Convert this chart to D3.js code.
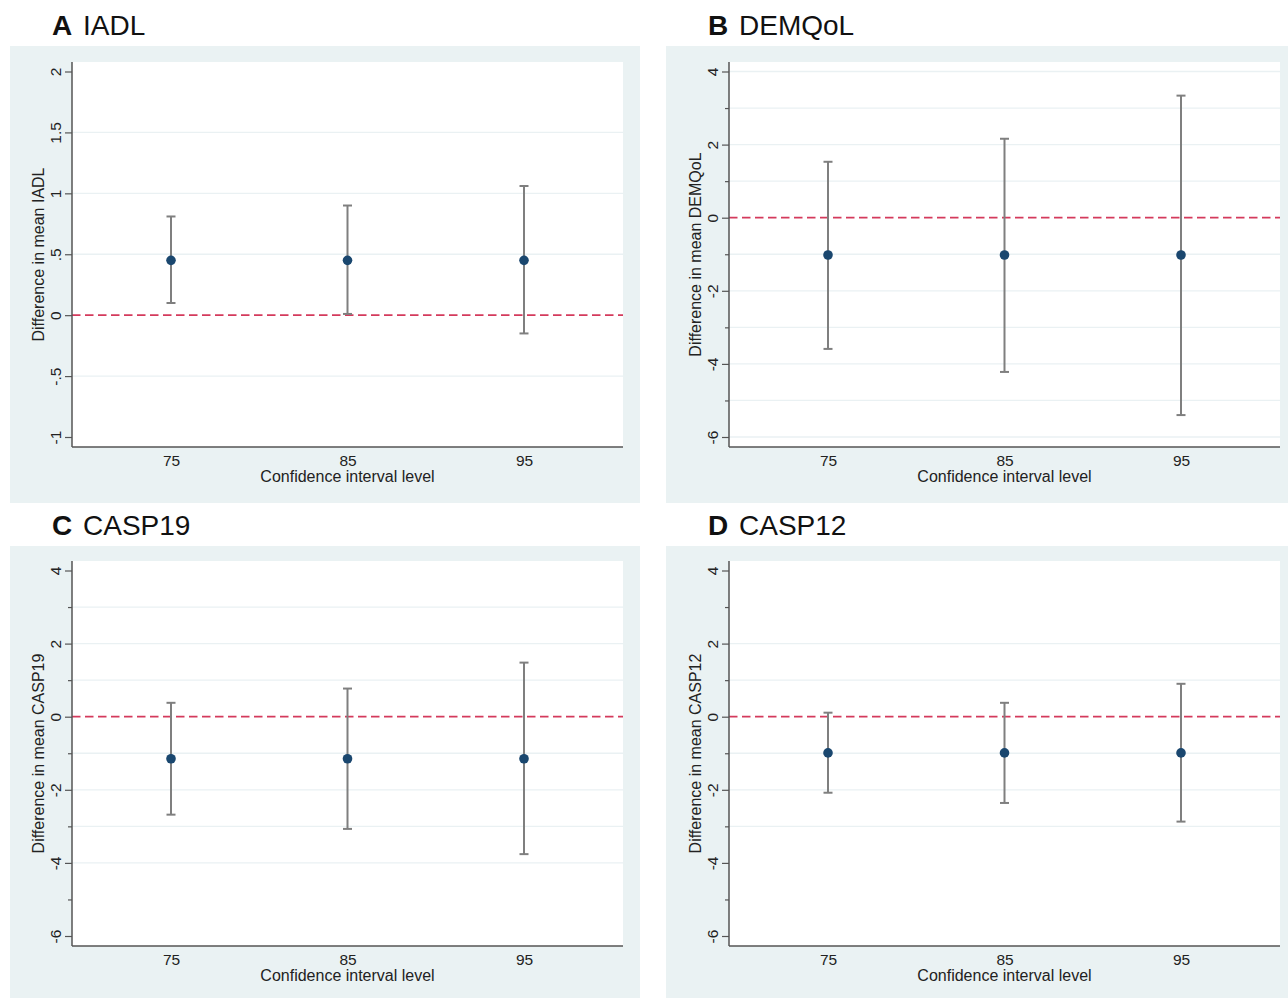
<!DOCTYPE html>
<html>
<head>
<meta charset="utf-8">
<script src="https://cdn.jsdelivr.net/npm/d3@7"></script>
<style>
  body { margin: 0; background: #fff; }
  text { font-family: "Liberation Sans", Arial, sans-serif; }
</style>
</head>
<body>
<div id="chart"></div>
<script>
// Confidence interval levels (x categories)
const levels = [75, 85, 95];

// A: IADL
const iadlMean  = [0.45, 0.45, 0.45];
const iadlLower = [0.10, 0.01, -0.15];
const iadlUpper = [0.81, 0.90, 1.06];

// B: DEMQoL
const demqolMean  = [-1.02, -1.02, -1.02];
const demqolLower = [-3.59, -4.22, -5.40];
const demqolUpper = [1.53, 2.16, 3.34];

// C: CASP19
const casp19Mean  = [-1.15, -1.15, -1.15];
const casp19Lower = [-2.68, -3.07, -3.76];
const casp19Upper = [0.38, 0.77, 1.48];

// D: CASP12
const casp12Mean  = [-0.99, -0.99, -0.99];
const casp12Lower = [-2.08, -2.36, -2.87];
const casp12Upper = [0.11, 0.38, 0.90];

// y tick values and labels
const iadlTicks = [-1, -0.5, 0, 0.5, 1, 1.5, 2];
const iadlTickLabels = ["-1", "-.5", "0", ".5", "1", "1.5", "2"];
const wideTicks = [-6, -4, -2, 0, 2, 4];
const wideTickLabels = ["-6", "-4", "-2", "0", "2", "4"];
const wideMinorTicks = [-5, -3, -1, 1, 3];

// grid line values per panel
const iadlGrid = [-0.5, 0.5, 1, 1.5];
const demqolGrid = [-6, -5, -4, -3, -2, -1, 1, 2, 3, 4];
const casp19Grid = [-4, -3, -2, -1, 1, 2, 3];
const casp12Grid = [-3, -2, -1, 1, 2];

const letters = ["A", "B", "C", "D"];
const names = ["IADL", "DEMQoL", "CASP19", "CASP12"];

const width = 1288, height = 998;

const svg = d3.select("#chart")
    .append("svg")
    .attr("width", width)
    .attr("height", height);

// panel frames: background box and plot region
const frames = [
  {bx: 10,  by: 46,  bw: 630, bh: 457, left: 72,  top: 62,  right: 623,  bottom: 447},
  {bx: 666, by: 46,  bw: 622, bh: 457, left: 729, top: 62,  right: 1280, bottom: 447},
  {bx: 10,  by: 546, bw: 630, bh: 452, left: 72,  top: 561, right: 623,  bottom: 946},
  {bx: 666, by: 546, bw: 622, bh: 452, left: 729, top: 561, right: 1280, bottom: 946}
];

const panels = [
  {mean: iadlMean, lower: iadlLower, upper: iadlUpper, ticks: iadlTicks, labels: iadlTickLabels, minor: [], grid: iadlGrid},
  {mean: demqolMean, lower: demqolLower, upper: demqolUpper, ticks: wideTicks, labels: wideTickLabels, minor: wideMinorTicks, grid: demqolGrid},
  {mean: casp19Mean, lower: casp19Lower, upper: casp19Upper, ticks: wideTicks, labels: wideTickLabels, minor: wideMinorTicks, grid: casp19Grid},
  {mean: casp12Mean, lower: casp12Lower, upper: casp12Upper, ticks: wideTicks, labels: wideTickLabels, minor: wideMinorTicks, grid: casp12Grid}
];

const font = "'Liberation Sans', Arial, sans-serif";

panels.forEach(function(p, i) {
  const f = frames[i];
  const g = svg.append("g");

  // backgrounds
  g.append("rect")
      .attr("x", f.bx).attr("y", f.by)
      .attr("width", f.bw).attr("height", f.bh)
      .attr("fill", "#eaf2f3");
  g.append("rect")
      .attr("x", f.left).attr("y", f.top)
      .attr("width", f.right - f.left).attr("height", f.bottom - f.top)
      .attr("fill", "#ffffff");

  // panel title
  const title = g.append("text")
      .attr("x", f.bx + 42)
      .attr("y", f.by - 11)
      .style("font-size", "28px")
      .attr("fill", "#111");
  title.append("tspan").attr("font-weight", "bold").text(letters[i]);
  title.append("tspan").attr("dx", 3).text(" " + names[i]);

  // scales
  const x = d3.scaleLinear()
      .domain([75, 95])
      .range([f.left + 99, f.right - 99]);
  const y = d3.scaleLinear()
      .domain(d3.extent(p.ticks))
      .range([f.bottom - 10, f.top + 9.5]);

  // grid lines
  g.selectAll("gridline")
      .data(p.grid)
      .join("line")
      .attr("x1", f.left).attr("x2", f.right)
      .attr("y1", d => y(d)).attr("y2", d => y(d))
      .attr("stroke", "#eaf1f3")
      .attr("stroke-width", 1.3);

  // reference line at zero
  g.append("line")
      .attr("x1", f.left).attr("x2", f.right)
      .attr("y1", y(0)).attr("y2", y(0))
      .attr("stroke", "#d43a5c")
      .attr("stroke-width", 1.8)
      .attr("stroke-dasharray", "8.5,4.5");

  // y axis (major)
  const yAxis = g.append("g")
      .attr("transform", `translate(${f.left}, 0)`)
      .call(d3.axisLeft(y)
          .tickValues(p.ticks)
          .tickFormat((d, k) => p.labels[k])
          .tickSize(7));
  yAxis.attr("font-size", null).attr("font-family", null);
  yAxis.select(".domain").remove();
  yAxis.selectAll("line").attr("stroke", "#555").attr("stroke-width", 1.2);
  yAxis.selectAll("text")
      .attr("x", null).attr("dy", null)
      .attr("transform", "translate(-11,0) rotate(-90)")
      .attr("text-anchor", "middle")
      .attr("fill", "#222")
      .style("font-size", "15.5px")
      .style("font-family", font);

  // y axis (minor)
  if (p.minor.length) {
    const yMinor = g.append("g")
        .attr("transform", `translate(${f.left}, 0)`)
        .call(d3.axisLeft(y).tickValues(p.minor).tickFormat("").tickSize(4));
    yMinor.select(".domain").remove();
    yMinor.selectAll("line").attr("stroke", "#555").attr("stroke-width", 1.2);
  }

  // x axis labels
  const xAxis = g.append("g")
      .attr("transform", `translate(0, ${f.bottom})`)
      .call(d3.axisBottom(x).tickValues(levels).tickSize(0).tickPadding(8));
  xAxis.attr("font-size", null).attr("font-family", null);
  xAxis.select(".domain").remove();
  xAxis.selectAll("text")
      .attr("fill", "#222")
      .style("font-size", "15.5px")
      .style("font-family", font);

  // axis lines
  g.append("line")
      .attr("x1", f.left).attr("x2", f.left)
      .attr("y1", f.top).attr("y2", f.bottom)
      .attr("stroke", "#555").attr("stroke-width", 1.5);
  g.append("line")
      .attr("x1", f.left).attr("x2", f.right)
      .attr("y1", f.bottom).attr("y2", f.bottom)
      .attr("stroke", "#555").attr("stroke-width", 1.5);

  // axis titles
  g.append("text")
      .attr("transform", `translate(${f.left - 28}, ${(f.top + f.bottom) / 2}) rotate(-90)`)
      .attr("text-anchor", "middle")
      .attr("fill", "#222")
      .style("font-size", "16px")
      .text("Difference in mean " + names[i]);
  g.append("text")
      .attr("x", x(85))
      .attr("y", f.bottom + 35)
      .attr("text-anchor", "middle")
      .attr("fill", "#222")
      .style("font-size", "16px")
      .text("Confidence interval level");

  // error bars
  const rows = levels.map((lv, k) => ({lv: lv, m: p.mean[k], lo: p.lower[k], hi: p.upper[k]}));

  g.selectAll("bar")
      .data(rows)
      .join("line")
      .attr("x1", d => x(d.lv)).attr("x2", d => x(d.lv))
      .attr("y1", d => y(d.lo)).attr("y2", d => y(d.hi))
      .attr("stroke", "#7f7f7f")
      .attr("stroke-width", 2);
  ["lo", "hi"].forEach(function(key) {
    g.selectAll("cap" + key)
        .data(rows)
        .join("line")
        .attr("x1", d => x(d.lv) - 4.5).attr("x2", d => x(d.lv) + 4.5)
        .attr("y1", d => y(d[key])).attr("y2", d => y(d[key]))
        .attr("stroke", "#7f7f7f")
        .attr("stroke-width", 2);
  });

  // points
  g.selectAll("pt")
      .data(rows)
      .join("circle")
      .attr("cx", d => x(d.lv))
      .attr("cy", d => y(d.m))
      .attr("r", 4.8)
      .attr("fill", "#1a476f");
});
</script>
</body>
</html>
